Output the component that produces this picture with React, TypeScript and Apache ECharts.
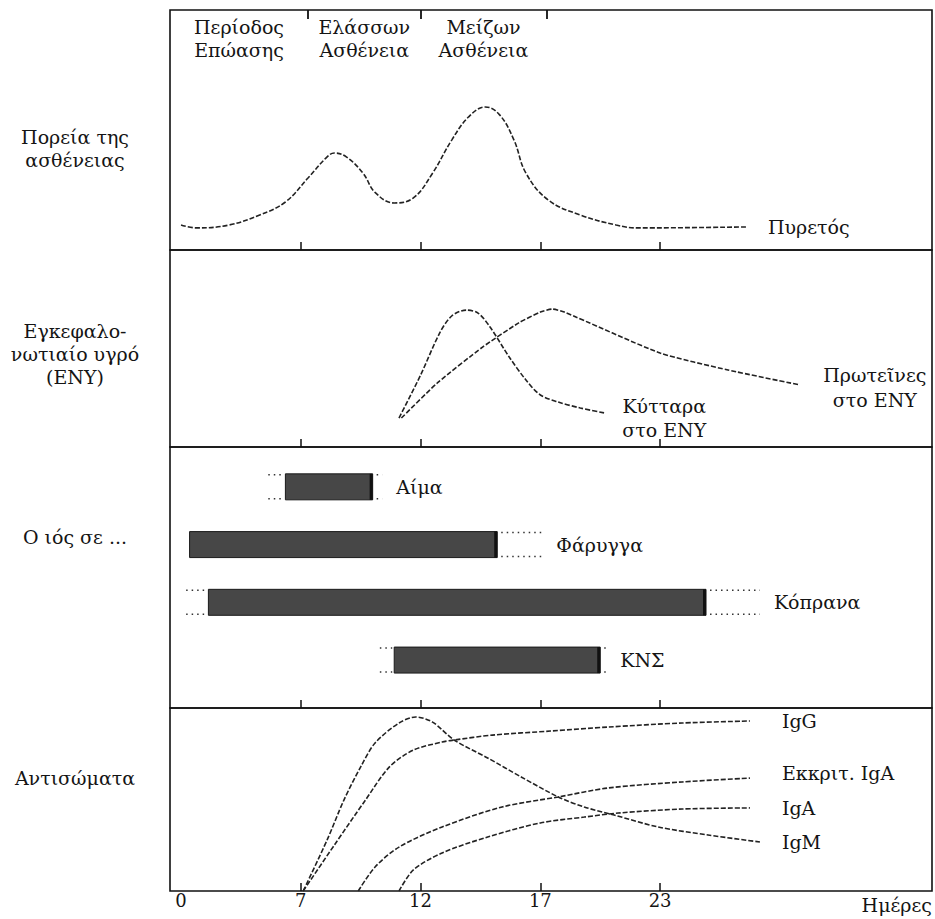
import React, { useEffect, useRef } from "react";
import * as echarts from "echarts";

// ---- axis (schematic day scale: labelled days are evenly spaced) ----
const DAY_TICKS = [0, 7, 12, 17, 23];
const TICK_DAYS = [7, 12, 17, 23];
const LABEL_DAYS = [0, 7, 12, 17, 23];

// ---- disease phases (top band) ----
const PHASES = ["Περίοδος\nΕπώασης", "Ελάσσων\nΑσθένεια", "Μείζων\nΑσθένεια"];
const PHASE_ENDS = [7.3, 12, 17.3];

// ---- panel 1: fever ----
const FEVER_DAYS = [0, 0.9, 2.8, 4.6, 6.1, 7.3, 8.1, 8.4, 8.9, 9.6, 10.1, 10.9, 11.7, 12.5, 13.3, 14.0, 14.7, 15.3, 15.9, 16.4, 17.4, 19.0, 20.8, 21.9, 27.3];
const FEVER = [10.4, 9.2, 10.4, 14.6, 20, 30, 38.8, 40.4, 38.8, 32, 24, 19.6, 21.7, 32, 45.8, 55.4, 59.6, 56.3, 45.8, 32, 20.8, 14.6, 10.4, 9.2, 9.6];

// ---- panel 2: CSF ----
const CELL_DAYS = [11.1, 12.0, 12.8, 13.3, 13.9, 14.4, 14.9, 15.7, 16.4, 17.0, 17.9, 19.0, 20.2];
const CELLS = [14.7, 36.5, 57.9, 66.5, 69.5, 68, 60.9, 45.7, 34, 26.4, 22.8, 19.8, 17.3];
const PROTEIN_DAYS = [11.2, 12.7, 14.6, 16.1, 17.0, 17.6, 18.2, 23.0, 26.4, 30.0];
const PROTEIN = [14.7, 32.5, 50.8, 63, 68.5, 70, 68.5, 47.7, 39.1, 31.5];

// ---- panel 3: virus shedding ----
const VIRUS_SITES = ["Αίμα", "Φάρυγγα", "Κόπρανα", "ΚΝΣ"];
const VIRUS_DOT_START = [5.1, 0.5, 0.3, 10.3];
const VIRUS_START = [6.1, 0.5, 1.6, 10.9];
const VIRUS_END = [10.0, 15.2, 25.3, 20.0];
const VIRUS_DOT_END = [10.4, 17.1, 28.0, 20.3];

// ---- panel 4: antibodies ----
const IGM_DAYS = [7.1, 8.1, 8.8, 9.5, 10.1, 11.1, 11.8, 12.5, 13.4, 14.8, 16.2, 17.9, 19.2, 20.7, 22.9, 25.4, 28.0];
const IGM = [0, 27.9, 49.7, 67.8, 80.9, 91.8, 95.1, 92.3, 82.5, 72.7, 62.3, 51.4, 45.9, 41.5, 35.0, 30.6, 26.8];
const IGG_DAYS = [7.1, 8.4, 9.7, 10.7, 11.7, 12.9, 13.4, 15.0, 17.5, 20.4, 24.1, 27.5];
const IGG = [0, 25.1, 49.7, 67.8, 77.0, 81.4, 82.5, 85.2, 87.4, 89.6, 91.8, 92.9];
const SIGA_DAYS = [9.4, 10.1, 11.1, 12.9, 15.4, 17.9, 20.4, 24.1, 27.5];
const SIGA = [0, 13.1, 24.0, 35.0, 45.9, 51.4, 56.3, 59.6, 61.7];
const IGA_DAYS = [11.1, 11.7, 12.9, 14.8, 17.0, 19.2, 20.9, 24.1, 27.5];
const IGA = [0, 11.5, 20.8, 29.5, 37.2, 40.4, 42.6, 44.8, 45.4];

const ROW_LABELS = ["Πορεία της\nασθένειας", "Εγκεφαλο-\nνωτιαίο υγρό\n(ΕΝΥ)", "Ο ιός σε ...", "Αντισώματα"];

// map a day onto the evenly spaced schematic axis
function toSlot(d: number): number {
  const t = DAY_TICKS;
  if (d <= t[0]) return (d - t[0]) / (t[1] - t[0]);
  for (let i = 0; i < t.length - 1; i++) {
    if (d <= t[i + 1]) return i + (d - t[i]) / (t[i + 1] - t[i]);
  }
  const n = t.length - 1;
  return n + (d - t[n]) / (t[n] - t[n - 1]);
}

const FONT = "'DejaVu Serif', 'Liberation Serif', serif";
const INK = "#141414";
const LINE = "#222222";
const FS = 19;

const SLOT_MIN = -0.092;
const SLOT_MAX = 6.27;

function pairs(xs: number[], ys: number[]) {
  return xs.map((d, i) => [toSlot(d), ys[i]]);
}

export default function App() {
  const ref = useRef<HTMLDivElement>(null);
  useEffect(() => {
    if (!ref.current) return;
    const chart = echarts.init(ref.current, undefined, { renderer: "svg" });

    const gridBase = { left: 170, width: 762, show: true, borderColor: "#111", borderWidth: 1.6, backgroundColor: "transparent", outerBoundsMode: "none" };
    const grids = [
      { ...gridBase, top: 10, height: 240 },
      { ...gridBase, top: 250, height: 197 },
      { ...gridBase, top: 447, height: 261 },
      { ...gridBase, top: 708, height: 183 },
    ];

    const tickSlots = TICK_DAYS.map(toSlot);
    const labelSlots = LABEL_DAYS.map(toSlot);
    const xAxes: any[] = [0, 1, 2, 3].map((g) => ({
      gridIndex: g,
      type: "value",
      min: SLOT_MIN,
      max: SLOT_MAX,
      axisLine: { show: false, onZero: false },
      axisTick: { show: true, inside: true, length: 8, customValues: tickSlots, lineStyle: { color: "#111", width: 1.5 } },
      axisLabel: {
        show: g === 3,
        customValues: labelSlots,
        margin: 0,
        fontSize: 18,
        fontFamily: FONT,
        color: INK,
        formatter: (v: number) => {
          const i = labelSlots.findIndex((s) => Math.abs(s - v) < 1e-6);
          return i >= 0 ? String(LABEL_DAYS[i]) : "";
        },
      },
      splitLine: { show: false },
      name: g === 3 ? "Ημέρες" : "",
      nameLocation: "end",
      nameGap: 0,
      nameTextStyle: { align: "right", verticalAlign: "top", padding: [4, 0, 0, 0], fontSize: FS, fontFamily: FONT, color: INK },
    }));
    const phaseTicks = PHASE_ENDS.map(toSlot);
    const phaseStarts = [SLOT_MIN, ...phaseTicks.slice(0, -1)];
    const phaseMids = PHASES.map((_, i) => (phaseStarts[i] + phaseTicks[i]) / 2);
    xAxes.push({
      gridIndex: 0,
      type: "value",
      position: "top",
      min: SLOT_MIN,
      max: SLOT_MAX,
      axisLine: { show: false, onZero: false },
      axisTick: { show: true, inside: true, length: 9, customValues: phaseTicks, lineStyle: { color: "#111", width: 1.8 } },
      axisLabel: {
        show: true,
        inside: true,
        customValues: phaseMids,
        margin: 5,
        fontSize: FS,
        lineHeight: 23,
        fontFamily: FONT,
        color: INK,
        formatter: (v: number) => {
          const i = phaseMids.findIndex((s) => Math.abs(s - v) < 1e-6);
          return i >= 0 ? PHASES[i] : "";
        },
      },
      splitLine: { show: false },
    });

    const yAxes: any[] = [
      { gridIndex: 0, type: "value", min: 0, max: 100, show: false },
      { gridIndex: 1, type: "value", min: 0, max: 100, show: false },
      { gridIndex: 2, type: "value", inverse: true, min: -0.69, max: 3.83, show: false },
      { gridIndex: 3, type: "value", min: 0, max: 100, show: false },
    ];

    const lineStyle = { color: LINE, width: 1.6, type: [5, 2] as any };
    const labelText = { fontSize: FS, fontFamily: FONT, color: INK };

    const lineSeries = (name: string, xi: number, data: number[][], smooth: number, endLabel: any) => ({
      type: "line",
      name,
      xAxisIndex: xi,
      yAxisIndex: xi,
      data,
      smooth,
      showSymbol: false,
      symbol: "none",
      lineStyle,
      endLabel: { show: true, ...labelText, ...endLabel },
      z: 3,
    });

    const virusData = VIRUS_SITES.map((_, i) => [
      i,
      toSlot(VIRUS_DOT_START[i]),
      toSlot(VIRUS_START[i]),
      toSlot(VIRUS_END[i]),
      toSlot(VIRUS_DOT_END[i]),
    ]);

    const rowText = (text: string, y: number) => ({
      type: "text",
      x: 75,
      y,
      style: { text, align: "center", verticalAlign: "middle", lineHeight: 23, fontSize: FS, fontFamily: FONT, fill: INK },
    });

    const option: any = {
      animation: false,
      backgroundColor: "#ffffff",
      grid: grids,
      xAxis: xAxes,
      yAxis: yAxes,
      graphic: [
        rowText(ROW_LABELS[0], 148),
        rowText(ROW_LABELS[1], 354),
        rowText(ROW_LABELS[2], 537),
        rowText(ROW_LABELS[3], 778),
      ],
      series: [
        lineSeries("Πυρετός", 0, pairs(FEVER_DAYS, FEVER), 0.4, { formatter: "Πυρετός", distance: 22 }),
        lineSeries("Κύτταρα στο ΕΝΥ", 1, pairs(CELL_DAYS, CELLS), 0.3, {
          formatter: "{a|Κύτταρα}\n{a|στο ΕΝΥ}",
          distance: 14,
          offset: [0, 5],
          rich: { a: { width: 92, align: "center", lineHeight: 24, ...labelText } },
        }),
        lineSeries("Πρωτεΐνες στο ΕΝΥ", 1, pairs(PROTEIN_DAYS, PROTEIN), 0.2, {
          formatter: "{a|Πρωτεῖνες}\n{a|στο ΕΝΥ}",
          distance: 18,
          offset: [0, 3],
          rich: { a: { width: 114, align: "center", lineHeight: 25, ...labelText } },
        }),
        {
          type: "custom",
          name: "Ο ιός",
          xAxisIndex: 2,
          yAxisIndex: 2,
          data: virusData,
          encode: { x: [1, 2, 3, 4], y: 0 },
          renderItem: (params: any, api: any) => {
            const row = api.value(0);
            const pDS = api.coord([api.value(1), row]);
            const pS = api.coord([api.value(2), row]);
            const pE = api.coord([api.value(3), row]);
            const pDE = api.coord([api.value(4), row]);
            const h = api.size([0, 0.45])[1];
            const top = pS[1] - h / 2;
            const bot = pS[1] + h / 2;
            const dot = { stroke: "#333", lineWidth: 1.5, lineDash: [1.5, 4] };
            const children: any[] = [
              {
                type: "rect",
                shape: { x: pS[0], y: top, width: pE[0] - pS[0], height: h },
                style: { fill: "#474747", stroke: "#1a1a1a", lineWidth: 1 },
              },
              {
                type: "rect",
                shape: { x: pE[0] - 3, y: top, width: 3, height: h },
                style: { fill: "#111" },
              },
            ];
            if (pS[0] - pDS[0] > 2) {
              children.push({ type: "line", shape: { x1: pDS[0], y1: top + 1, x2: pS[0] - 2, y2: top + 1 }, style: dot });
              children.push({ type: "line", shape: { x1: pDS[0], y1: bot - 1, x2: pS[0] - 2, y2: bot - 1 }, style: dot });
            }
            if (pDE[0] - pE[0] > 2) {
              children.push({ type: "line", shape: { x1: pE[0] + 4, y1: top + 1, x2: pDE[0], y2: top + 1 }, style: dot });
              children.push({ type: "line", shape: { x1: pE[0] + 4, y1: bot - 1, x2: pDE[0], y2: bot - 1 }, style: dot });
            }
            children.push({
              type: "text",
              style: {
                text: VIRUS_SITES[params.dataIndex],
                x: pDE[0] + 14,
                y: pS[1],
                verticalAlign: "middle",
                align: "left",
                fontSize: FS,
                fontFamily: FONT,
                fill: INK,
              },
            });
            return { type: "group", children };
          },
          z: 3,
        },
        lineSeries("IgG", 3, pairs(IGG_DAYS, IGG), 0.3, { formatter: "IgG", distance: 32 }),
        lineSeries("Εκκριτ. IgA", 3, pairs(SIGA_DAYS, SIGA), 0.3, { formatter: "Εκκριτ. IgA", distance: 32, offset: [0, -5] }),
        lineSeries("IgA", 3, pairs(IGA_DAYS, IGA), 0.3, { formatter: "IgA", distance: 32 }),
        lineSeries("IgM", 3, pairs(IGM_DAYS, IGM), 0.3, { formatter: "IgM", distance: 22 }),
      ],
    };
    chart.setOption(option);
    return () => chart.dispose();
  }, []);
  return (
    <div
      ref={ref}
      style={{ position: "fixed", left: 0, top: 0, width: 935, height: 919, background: "#fff" }}
    />
  );
}
